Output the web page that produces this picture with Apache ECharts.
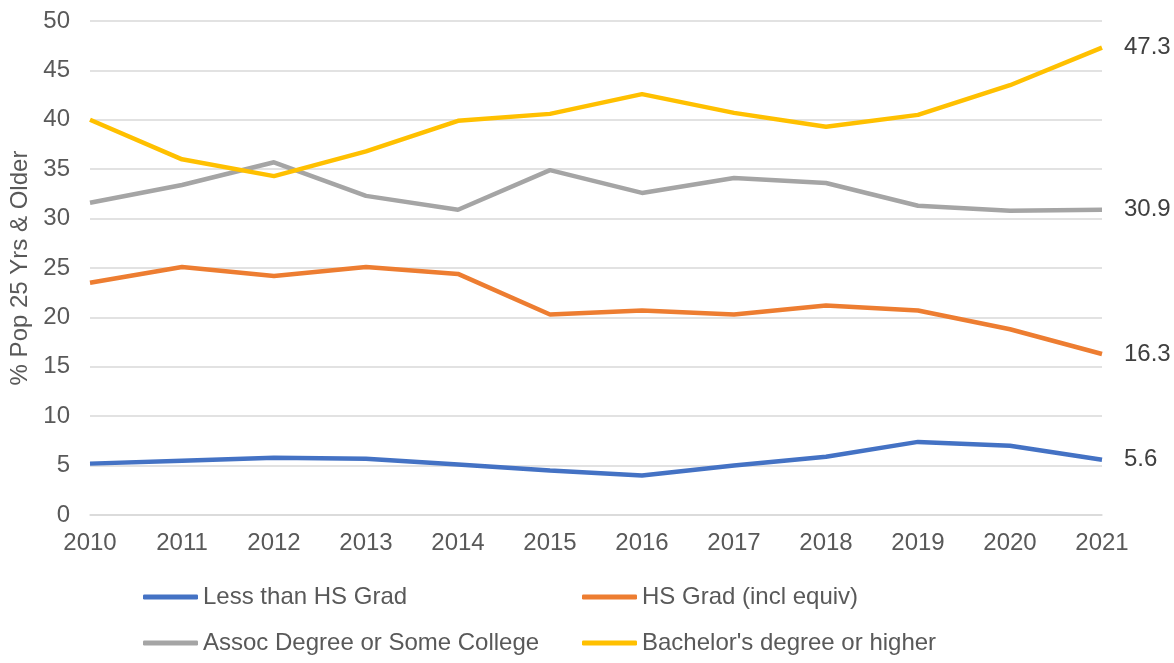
<!DOCTYPE html>
<html>
<head>
<meta charset="utf-8">
<script src="https://cdn.jsdelivr.net/npm/echarts@6/dist/echarts.min.js"></script>
<style>
  html, body { margin: 0; padding: 0; background: #fff; }
  #lineChart { width: 1174px; height: 663px; }
</style>
</head>
<body>
<div id="lineChart"></div>
<script>
// data
var years = ['2010', '2011', '2012', '2013', '2014', '2015', '2016', '2017', '2018', '2019', '2020', '2021'];
var lessThanHS = [5.2, 5.5, 5.8, 5.7, 5.1, 4.5, 4.0, 5.0, 5.9, 7.4, 7.0, 5.6];
var hsGrad = [23.5, 25.1, 24.2, 25.1, 24.4, 20.3, 20.7, 20.3, 21.2, 20.7, 18.8, 16.3];
var assocSome = [31.6, 33.4, 35.7, 32.3, 30.9, 34.9, 32.6, 34.1, 33.6, 31.3, 30.8, 30.9];
var bachelors = [40.0, 36.0, 34.3, 36.8, 39.9, 40.6, 42.6, 40.7, 39.3, 40.5, 43.5, 47.3];
var seriesNames = ['Less than HS Grad', 'HS Grad (incl equiv)', 'Assoc Degree or Some College', "Bachelor's degree or higher"];
var colors = ['#4472C4', '#ED7D31', '#A5A5A5', '#FFC000'];

var font = 'Arial, "Liberation Sans", sans-serif';

var makeLine = function (name, values, color) {
    return {
        name: name,
        type: 'line',
        data: values,
        symbol: 'none',
        lineStyle: { color: color, width: 4.5 },
        itemStyle: { color: color },
        endLabel: {
            show: true,
            distance: 22,
            color: '#404040',
            fontSize: 24,
            fontFamily: font,
            formatter: function (p) { return p.value.toFixed(1); }
        }
    };
};

var makeLegend = function (name, left, top) {
    return {
        data: [name],
        left: left,
        top: top,
        padding: 0,
        icon: 'roundRect',
        itemWidth: 55,
        itemHeight: 5,
        textStyle: { color: '#595959', fontSize: 24, fontFamily: font }
    };
};

var myChart = echarts.init(document.getElementById('lineChart'));
var option = {
    backgroundColor: '#fff',
    animation: false,
    grid: { left: 90, right: 72, top: 21, bottom: 148 },
    legend: [
        makeLegend(seriesNames[0], 143, 585),
        makeLegend(seriesNames[1], 582, 585),
        makeLegend(seriesNames[2], 143, 631),
        makeLegend(seriesNames[3], 582, 631)
    ],
    xAxis: {
        type: 'category',
        data: years,
        boundaryGap: false,
        axisLine: { lineStyle: { color: '#D9D9D9', width: 1.5 } },
        axisTick: { show: false },
        axisLabel: { color: '#595959', fontSize: 24, fontFamily: font, margin: 16 }
    },
    yAxis: {
        type: 'value',
        min: 0,
        max: 50,
        interval: 5,
        name: '% Pop 25 Yrs & Older',
        nameLocation: 'middle',
        nameGap: 58,
        nameTextStyle: { color: '#595959', fontSize: 24, fontFamily: font },
        axisLine: { show: false },
        axisTick: { show: false },
        axisLabel: { color: '#595959', fontSize: 24, fontFamily: font, margin: 20 },
        splitLine: { lineStyle: { color: '#D9D9D9', width: 1.5 } }
    },
    series: [
        makeLine(seriesNames[0], lessThanHS, colors[0]),
        makeLine(seriesNames[1], hsGrad, colors[1]),
        makeLine(seriesNames[2], assocSome, colors[2]),
        makeLine(seriesNames[3], bachelors, colors[3])
    ]
};
myChart.setOption(option);
</script>
</body>
</html>
